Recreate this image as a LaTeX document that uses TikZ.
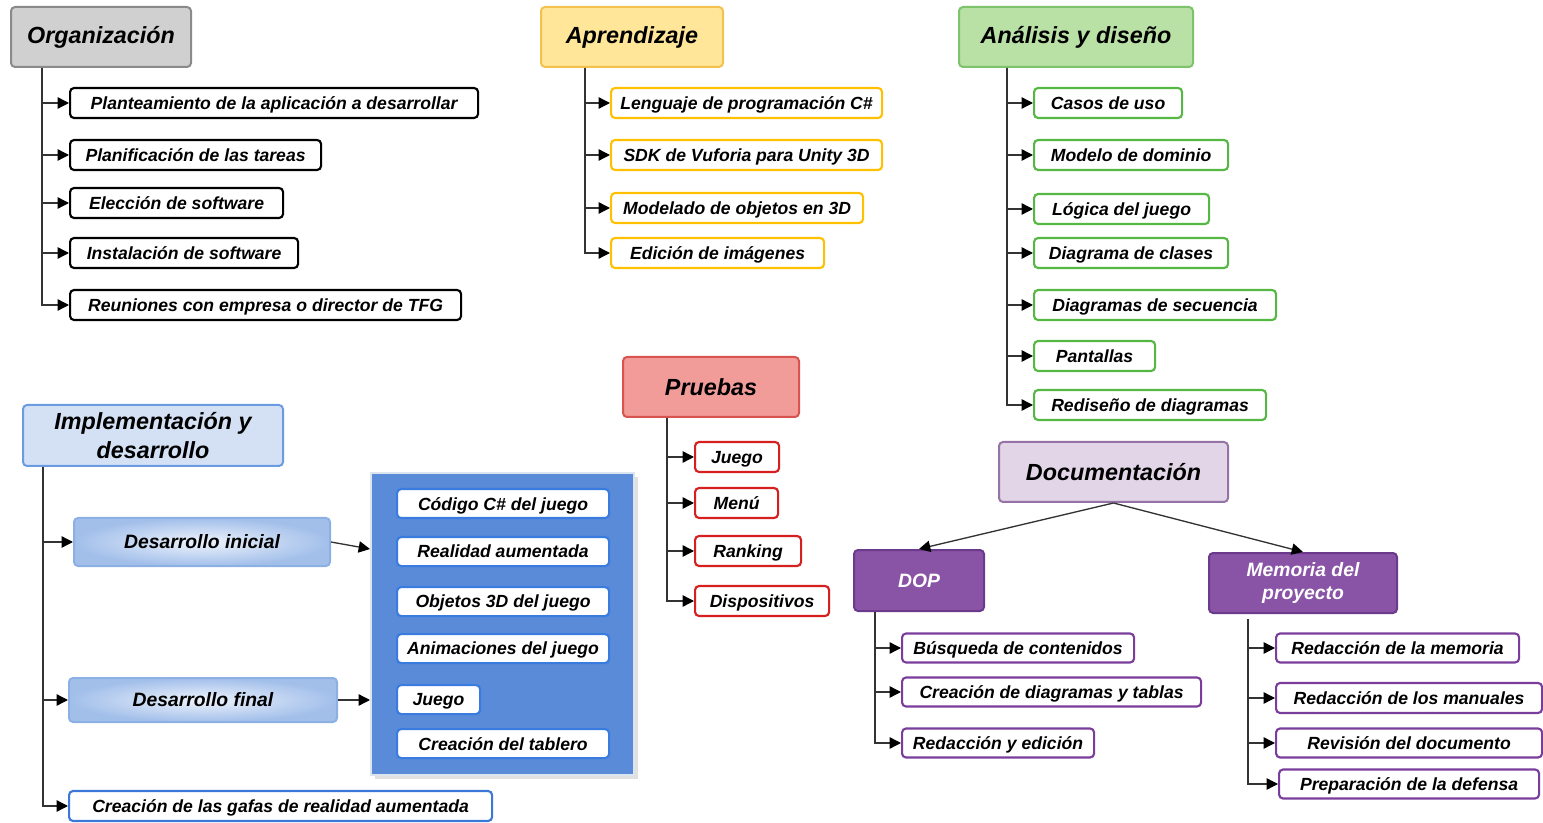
\documentclass[tikz,border=0pt]{standalone}
\usepackage{fontspec}
\setmainfont{Liberation Sans}
\usetikzlibrary{arrows.meta,shadows}

% palette
\definecolor{orgFill}{HTML}{D0D0D0}
\definecolor{orgLine}{HTML}{8A8A8A}
\definecolor{aprFill}{HTML}{FFE699}
\definecolor{aprLine}{HTML}{F2C14E}
\definecolor{aprChild}{HTML}{FFC000}
\definecolor{anaFill}{HTML}{B9E0A5}
\definecolor{anaLine}{HTML}{7DC36B}
\definecolor{anaChild}{HTML}{55B843}
\definecolor{pruFill}{HTML}{F19C99}
\definecolor{pruLine}{HTML}{D9534F}
\definecolor{pruChild}{HTML}{D61F1F}
\definecolor{impFill}{HTML}{D4E1F5}
\definecolor{impLine}{HTML}{6B9BE0}
\definecolor{impChild}{HTML}{3C78D8}
\definecolor{devInner}{HTML}{EEF3FC}
\definecolor{devOuter}{HTML}{A2BFEA}
\definecolor{devEdge}{HTML}{8DB0E4}
\definecolor{panelFill}{HTML}{5A8BD8}
\definecolor{panelLine}{HTML}{DCE4F0}
\definecolor{panelChild}{HTML}{3A7BE0}
\definecolor{docFill}{HTML}{E1D5E7}
\definecolor{docLine}{HTML}{9673A6}
\definecolor{dopFill}{HTML}{8953A6}
\definecolor{dopLine}{HTML}{6B3A8C}
\definecolor{dopChild}{HTML}{7A3D9C}

\newcommand\hdfont{\fontsize{17.5}{22}\selectfont\bfseries\itshape}
\newcommand\subfont{\fontsize{14.5}{17}\selectfont\bfseries\itshape}
\newcommand\itemfont{\fontsize{13.2}{15}\selectfont\bfseries\itshape}

\tikzset{
  every node/.style={inner sep=0pt, align=center},
  sz/.style 2 args={minimum width=#1*0.75pt, minimum height=#2*0.75pt},
  hd/.style={draw, line width=1.5pt, rounded corners=3pt, font=\hdfont, anchor=north west},
  sub/.style={draw, line width=1.5pt, rounded corners=3pt, font=\subfont, anchor=north west},
  item/.style={draw, fill=white, line width=1.6pt, rounded corners=3pt, font=\itemfont,
               text depth=0pt, anchor=west, minimum height=30*0.75pt},
  pitem/.style={draw=panelChild, fill=white, line width=1.6pt, rounded corners=3pt, font=\itemfont,
               text depth=0pt, anchor=north west, minimum height=29*0.75pt},
  conn/.style={draw=black!80, line width=1pt},
  arr/.style={conn, -{Triangle[length=8.5pt,width=8.5pt,color=black]}},
}

\begin{document}
\begin{tikzpicture}[x=0.75pt,y=-0.75pt]
\useasboundingbox (0,0) rectangle (1543,823);

% ---------------- Organización ----------------
\node[hd, fill=orgFill, draw=orgLine, sz={180}{60}] (org) at (10,6) {Organización};
\node[item, draw=black, sz={408}{30}] (o1) at (69,103) {Planteamiento de la aplicación a desarrollar};
\node[item, draw=black, sz={251}{30}] (o2) at (69,155) {Planificación de las tareas};
\node[item, draw=black, sz={213}{30}] (o3) at (69,203) {Elección de software};
\node[item, draw=black, sz={228}{30}] (o4) at (69,253) {Instalación de software};
\node[item, draw=black, sz={391}{30}] (o5) at (69,305) {Reuniones con empresa o director de TFG};
\foreach \c in {o1,o2,o3,o4,o5}
  \draw[arr] ([xshift=24pt]org.south west) |- (\c.west);

% ---------------- Aprendizaje ----------------
\node[hd, fill=aprFill, draw=aprLine, sz={182}{60}] (apr) at (540,6) {Aprendizaje};
\node[item, draw=aprChild, sz={271}{30}] (a1) at (610,103) {Lenguaje de programación C\#};
\node[item, draw=aprChild, sz={271}{30}] (a2) at (610,155) {SDK de Vuforia para Unity 3D};
\node[item, draw=aprChild, sz={252}{30}] (a3) at (610,208) {Modelado de objetos en 3D};
\node[item, draw=aprChild, sz={213}{30}] (a4) at (610,253) {Edición de imágenes};
\foreach \c in {a1,a2,a3,a4}
  \draw[arr] ([xshift=33.75pt]apr.south west) |- (\c.west);

% ---------------- Análisis y diseño ----------------
\node[hd, fill=anaFill, draw=anaLine, sz={234}{60}] (ana) at (958,6) {Análisis y diseño};
\node[item, draw=anaChild, sz={148}{30}] (n1) at (1033,103) {Casos de uso};
\node[item, draw=anaChild, sz={194}{30}] (n2) at (1033,155) {Modelo de dominio};
\node[item, draw=anaChild, sz={175}{30}] (n3) at (1033,209) {Lógica del juego};
\node[item, draw=anaChild, sz={194}{30}] (n4) at (1033,253) {Diagrama de clases};
\node[item, draw=anaChild, sz={242}{30}] (n5) at (1033,305) {Diagramas de secuencia};
\node[item, draw=anaChild, sz={121}{30}] (n6) at (1033,356) {Pantallas};
\node[item, draw=anaChild, sz={232}{30}] (n7) at (1033,405) {Rediseño de diagramas};
\foreach \c in {n1,n2,n3,n4,n5,n6,n7}
  \draw[arr] ([xshift=36.75pt]ana.south west) |- (\c.west);

% ---------------- Pruebas ----------------
\node[hd, fill=pruFill, draw=pruLine, sz={176}{60}] (pru) at (622,356) {Pruebas};
\node[item, draw=pruChild, sz={84}{30}] (p1) at (694,457) {Juego};
\node[item, draw=pruChild, sz={83}{30}] (p2) at (694,503) {Menú};
\node[item, draw=pruChild, sz={106}{30}] (p3) at (694,551) {Ranking};
\node[item, draw=pruChild, sz={134}{30}] (p4) at (694,601) {Dispositivos};
\foreach \c in {p1,p2,p3,p4}
  \draw[arr] ([xshift=33.75pt]pru.south west) |- (\c.west);

% ---------------- Implementación y desarrollo ----------------
\node[hd, fill=impFill, draw=impLine, sz={260}{61}] (imp) at (22,404) {Implementación y\\desarrollo};
\node[sub, draw=devEdge, inner color=devInner, outer color=devOuter, sz={256}{48}] (dini) at (73,517) {Desarrollo inicial};
\node[sub, draw=devEdge, inner color=devInner, outer color=devOuter, sz={268}{44}] (dfin) at (68,677) {Desarrollo final};
\node[item, draw=impChild, sz={423}{30}] (gaf) at (68,806) {Creación de las gafas de realidad aumentada};
\foreach \c in {dini,dfin,gaf}
  \draw[arr] ([xshift=15.75pt]imp.south west) |- (\c.west);

% panel with the development tasks
\node[draw=panelLine, fill=panelFill, line width=1.5pt, anchor=north west, sz={263}{302},
      drop shadow={shadow xshift=3pt, shadow yshift=-3pt, opacity=0.2, fill=black!60}] (panel) at (370,472) {};
\node[pitem, sz={212}{29}] (b1) at (396,488) {Código C\# del juego};
\node[pitem, sz={212}{29}] (b2) at (396,536) {Realidad aumentada};
\node[pitem, sz={212}{29}] (b3) at (396,586) {Objetos 3D del juego};
\node[pitem, sz={212}{29}] (b4) at (396,633) {Animaciones del juego};
\node[pitem, sz={83}{29}]  (b5) at (396,684) {Juego};
\node[pitem, sz={212}{29}] (b6) at (396,728) {Creación del tablero};
\draw[arr] (dini.east) -- ([yshift=-5.25pt]panel.west |- dini.east);
\draw[arr] (dfin.east) -- (panel.west |- dfin.east);

% ---------------- Documentación ----------------
\node[hd, fill=docFill, draw=docLine, sz={229}{60}] (doc) at (998,441) {Documentación};
\node[sub, fill=dopFill, draw=dopLine, text=white, sz={130}{61}] (dop) at (853,549) {DOP};
\node[sub, fill=dopFill, draw=dopLine, text=white, sz={188}{60}] (mem) at (1208,552) {Memoria del\\proyecto};
\draw[arr] (doc.south) -- (dop.north);
\draw[arr] (doc.south) -- (mem.north);

\node[item, draw=dopChild, sz={232}{29}] (d1) at (901,648) {Búsqueda de contenidos};
\node[item, draw=dopChild, sz={299}{29}] (d2) at (901,692) {Creación de diagramas y tablas};
\node[item, draw=dopChild, sz={192}{29}] (d3) at (901,743) {Redacción y edición};
\foreach \c in {d1,d2,d3}
  \draw[arr] ([xshift=16.5pt]dop.south west) |- (\c.west);

\node[item, draw=dopChild, sz={243}{29}] (m1) at (1275,648) {Redacción de la memoria};
\node[item, draw=dopChild, sz={266}{30}] (m2) at (1275,698) {Redacción de los manuales};
\node[item, draw=dopChild, sz={266}{29}] (m3) at (1275,743) {Revisión del documento};
\node[item, draw=dopChild, sz={260}{29}] (m4) at (1278,784) {Preparación de la defensa};
\foreach \c in {m1,m2,m3,m4}
  \draw[arr] ([xshift=30pt,yshift=-3.75pt]mem.south west) |- (\c.west);

\end{tikzpicture}
\end{document}
